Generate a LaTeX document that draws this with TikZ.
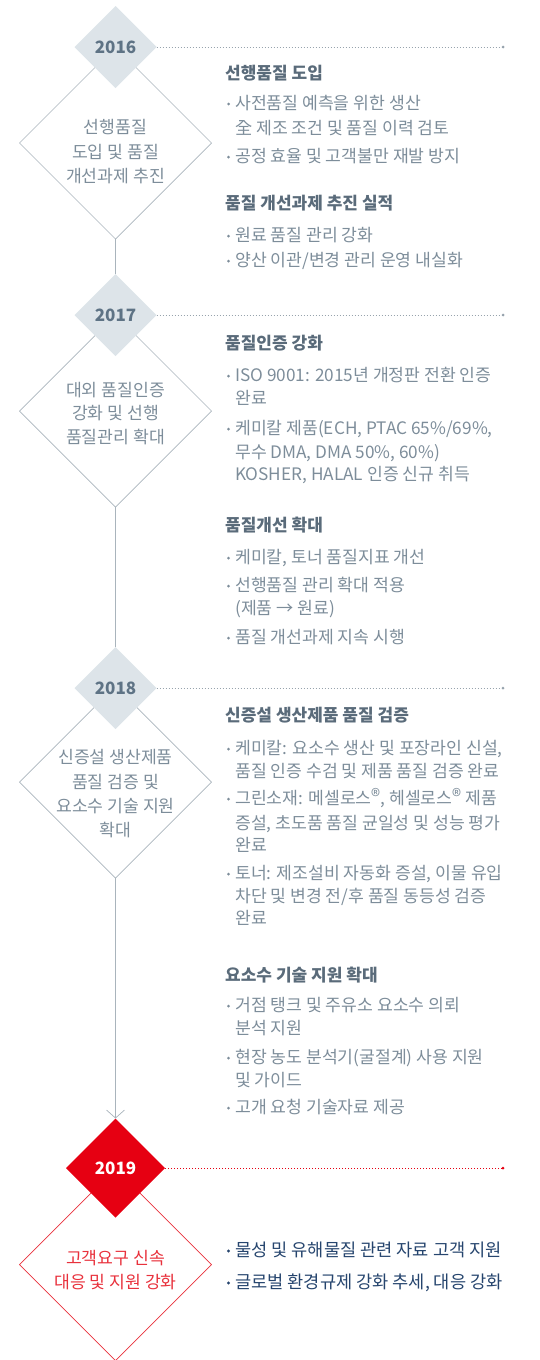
\documentclass[tikz,border=0pt]{standalone}
\usepackage{fontspec}
\setmainfont{Noto Sans CJK KR}
\usetikzlibrary{shapes.geometric,arrows.meta}
\definecolor{lgray}{HTML}{A9B4BC}
\definecolor{yfill}{HTML}{DDE4E9}
\definecolor{ytext}{HTML}{5E7385}
\definecolor{bodyc}{HTML}{7D8D9A}
\definecolor{headc}{HTML}{5A6B7A}
\definecolor{dotc}{HTML}{97A3AD}
\definecolor{kred}{HTML}{E60012}
\definecolor{lred}{HTML}{E8313C}
\definecolor{navy}{HTML}{26456E}
\newcommand{\regmark}{\raisebox{0.05em}{\fontsize{19}{19}\selectfont ®}}
\tikzset{
  bigd/.style={diamond, aspect=1, draw=lgray, line width=0.7pt, minimum width=192pt, minimum height=192pt, inner sep=0pt, outer sep=0pt},
  yeard/.style={diamond, aspect=1, fill=yfill, minimum width=82pt, minimum height=82pt, inner sep=0pt, outer sep=0pt, text=ytext, font=\fontsize{17}{20}\selectfont\bfseries, text height=12.4pt, text depth=0pt},
  redyear/.style={yeard, fill=kred, text=white, minimum width=99pt, minimum height=99pt},
  reddiam/.style={bigd, draw=lred},
  conn/.style={draw=lgray, line width=0.7pt},
  dotline/.style={draw=dotc, line width=0.8pt, dash pattern=on 0.9pt off 2.1pt},
  enddot/.style={circle, fill=dotc, inner sep=0pt, minimum size=3pt, outer sep=0pt},
  ltx/.style={inner sep=0pt, anchor=center, text=bodyc, font=\fontsize{17.2}{19}\selectfont, text height=14.8pt, text depth=2.4pt},
  hd/.style={inner sep=0pt, anchor=west, text=headc, font=\fontsize{17}{19}\selectfont\bfseries, text height=14.6pt, text depth=2.4pt},
  tx/.style={inner sep=0pt, anchor=west, text=bodyc, font=\fontsize{17.2}{19}\selectfont, text height=14.8pt, text depth=2.4pt},
  bl/.style={circle, fill=bodyc, inner sep=0pt, minimum size=3pt},
  ntx/.style={inner sep=0pt, anchor=west, text=navy, font=\fontsize{17.6}{19}\selectfont, text height=15.1pt, text depth=2.5pt},
  nbl/.style={bl, fill=navy, minimum size=3.4pt},
}
\begin{document}
\begin{tikzpicture}[x=1pt,y=-1pt]
\useasboundingbox (0,0) rectangle (540,1360);
% big diamonds
\node[bigd] (d16) at (115.5,143) {};
\node[bigd] (d17) at (115.5,411) {};
\node[bigd] (d18) at (115.5,782) {};
\node[reddiam] (d19) at (115.5,1264.5) {};
% year diamonds
\node[yeard] (y16) at (115.5,47) {2016};
\node[yeard] (y17) at (115.5,315) {2017};
\node[yeard] (y18) at (115.5,688) {2018};
\node[redyear] (y19) at (115.5,1168) {2019};
% connectors
\draw[conn] (d16.south) -- (y17.north);
\draw[conn] (d17.south) -- (y18.north);
\draw[conn, -{Straight Barb[length=8pt,width=18pt,line width=0.7pt]}] (d18.south) -- (y19.north);
% dotted lines
\coordinate (e16) at (503,47);
\coordinate (e17) at (503,315);
\coordinate (e18) at (503,688);
\coordinate (e19) at (503,1168);
\draw[dotline] (y16.east) -- (e16);
\draw[dotline] (y17.east) -- (e17);
\draw[dotline] (y18.east) -- (e18);
\draw[dotline, draw=kred] (y19.east) -- (e19);
\node[enddot] (p16) at (e16) {};
\node[enddot] (p17) at (e17) {};
\node[enddot] (p18) at (e18) {};
\node[enddot, fill=kred] (p19) at (e19) {};
% left diamond texts
\node[ltx] (a16a) at (115.5,127) {선행품질};
\node[ltx] (a16b) at (115.5,152) {도입 및 품질};
\node[ltx] (a16c) at (115.5,176) {개선과제 추진};
\node[ltx] (a17a) at (115.5,390) {대외 품질인증};
\node[ltx] (a17b) at (115.5,413) {강화 및 선행};
\node[ltx] (a17c) at (115.5,437) {품질관리 확대};
\node[ltx] (a18a) at (115.5,757) {신증설 생산제품};
\node[ltx] (a18b) at (115.5,782) {품질 검증 및};
\node[ltx] (a18c) at (115.5,806) {요소수 기술 지원};
\node[ltx] (a18d) at (115.5,830) {확대};
\node[ltx, text=lred] (a19a) at (115.5,1258) {고객요구 신속};
\node[ltx, text=lred] (a19b) at (115.5,1282) {대응 및 지원 강화};
% 2016 right
\node[hd] (h16a) at (225,73) {선행품질 도입};
\node[bl] (b16a) at (228.5,104) {}; \node[tx] (t16a) at (235,103) {사전품질 예측을 위한 생산};
\node[tx] (t16b) at (235,128) {全 제조 조건 및 품질 이력 검토};
\node[bl] (b16c) at (228.5,157) {}; \node[tx] (t16c) at (235,156) {공정 효율 및 고객불만 재발 방지};
\node[hd] (h16b) at (225,203) {품질 개선과제 추진 실적};
\node[bl] (b16d) at (228.5,236) {}; \node[tx] (t16d) at (235,235) {원료 품질 관리 강화};
\node[bl] (b16e) at (228.5,261) {}; \node[tx] (t16e) at (235,260) {양산 이관/변경 관리 운영 내실화};
% 2017 right
\node[hd] (h17a) at (225,343) {품질인증 강화};
\node[bl] (b17a) at (228.5,376) {}; \node[tx] (t17a) at (235,375) {ISO 9001: 2015년 개정판 전환 인증};
\node[tx] (t17b) at (235,398) {완료};
\node[bl] (b17c) at (228.5,429) {}; \node[tx] (t17c) at (235,428) {케미칼 제품(ECH, PTAC 65\%/69\%,};
\node[tx] (t17d) at (235,452) {무수 DMA, DMA 50\%, 60\%)};
\node[tx] (t17e) at (235,474) {KOSHER, HALAL 인증 신규 취득};
\node[hd] (h17b) at (225,525) {품질개선 확대};
\node[bl] (b17f) at (228.5,558) {}; \node[tx] (t17f) at (235,557) {케미칼, 토너 품질지표 개선};
\node[bl] (b17g) at (228.5,586) {}; \node[tx] (t17g) at (235,585) {선행품질 관리 확대 적용};
\node[tx] (t17h) at (235,608) {(제품 → 원료)};
\node[bl] (b17i) at (228.5,638) {}; \node[tx] (t17i) at (235,637) {품질 개선과제 지속 시행};
% 2018 right
\node[hd] (h18a) at (225,715) {신증설 생산제품 품질 검증};
\node[bl] (b18a) at (228.5,749) {}; \node[tx] (t18a) at (235,748) {케미칼: 요소수 생산 및 포장라인 신설,};
\node[tx] (t18b) at (235,771) {품질 인증 수검 및 제품 품질 검증 완료};
\node[bl] (b18c) at (228.5,799) {}; \node[tx] (t18c) at (235,798) {그린소재: 메셀로스\regmark, 헤셀로스\regmark{} 제품};
\node[tx] (t18d) at (235,823) {증설, 초도품 품질 균일성 및 성능 평가};
\node[tx] (t18e) at (235,845) {완료};
\node[bl] (b18f) at (228.5,874) {}; \node[tx] (t18f) at (235,873) {토너: 제조설비 자동화 증설, 이물 유입};
\node[tx] (t18g) at (235,896) {차단 및 변경 전/후 품질 동등성 검증};
\node[tx] (t18h) at (235,918) {완료};
\node[hd] (h18b) at (225,975) {요소수 기술 지원 확대};
\node[bl] (b18i) at (228.5,1006) {}; \node[tx] (t18i) at (235,1005) {거점 탱크 및 주유소 요소수 의뢰};
\node[tx] (t18j) at (235,1028) {분석 지원};
\node[bl] (b18k) at (228.5,1058) {}; \node[tx] (t18k) at (235,1057) {현장 농도 분석기(굴절계) 사용 지원};
\node[tx] (t18l) at (235,1080) {및 가이드};
\node[bl] (b18m) at (228.5,1108) {}; \node[tx] (t18m) at (235,1107) {고개 요청 기술자료 제공};
% 2019 right
\node[nbl] (b19a) at (228.5,1251) {}; \node[ntx] (t19a) at (235,1250) {물성 및 유해물질 관련 자료 고객 지원};
\node[nbl] (b19b) at (228.5,1283) {}; \node[ntx] (t19b) at (235,1282) {글로벌 환경규제 강화 추세, 대응 강화};
\end{tikzpicture}
\end{document}
